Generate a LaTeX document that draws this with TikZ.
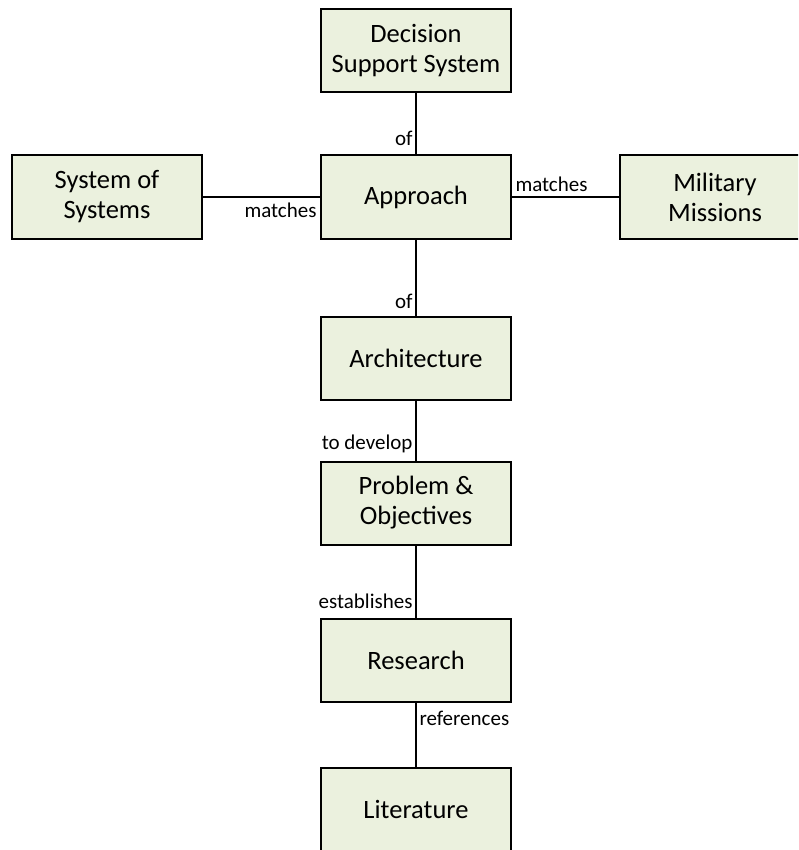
\documentclass[tikz,border=0pt]{standalone}
\usepackage{fontspec}
\setmainfont{Carlito}
\definecolor{boxfill}{HTML}{EBF1DE}
\begin{document}
\begin{tikzpicture}[x=1pt,y=-1pt,
  conceptbox/.style={draw=black, line width=2pt, fill=boxfill,
    minimum width=190pt, minimum height=83pt, align=center,
    font=\fontsize{26.5}{30}\selectfont, text=black},
  link/.style={draw=black, line width=2pt},
  linklabel/.style={font=\fontsize{21}{24}\selectfont, text=black, inner sep=2.5pt}]
\useasboundingbox (0,0) rectangle (798,850);
\clip (0,0) rectangle (798,850);
\fill[white] (0,0) rectangle (798,850);

% concept boxes
\node[conceptbox] (dss) at (416,51) {Decision\\Support System};
\node[conceptbox] (app) at (416,197) {Approach};
\node[conceptbox] (sos) at (107,197) {System of\\Systems};
\node[conceptbox] (mil) at (715,197) {Military\\Missions};
\node[conceptbox] (arch) at (416,358.5) {Architecture};
\node[conceptbox] (prob) at (416,503) {Problem \&\\Objectives};
\node[conceptbox] (res) at (416,660) {Research};
\node[conceptbox] (lit) at (416,809.5) {Literature};

% labelled links
\draw[link] (dss.south) -- node[linklabel, pos=0.74, anchor=east] {of} (app.north);
\draw[link] (sos.east) -- node[linklabel, pos=1, anchor=north east, yshift=-2pt] {matches} (app.west);
\draw[link] (app.east) -- node[linklabel, pos=0, anchor=south west, yshift=2pt] {matches} (mil.west);
\draw[link] (app.south) -- node[linklabel, pos=0.81, anchor=east] {of} (arch.north);
\draw[link] (arch.south) -- node[linklabel, pos=0.72, anchor=east] {to develop} (prob.north);
\draw[link] (prob.south) -- node[linklabel, pos=0.78, anchor=east] {establishes} (res.north);
\draw[link] (res.south) -- node[linklabel, pos=0.24, anchor=west] {references} (lit.north);
\end{tikzpicture}
\end{document}
